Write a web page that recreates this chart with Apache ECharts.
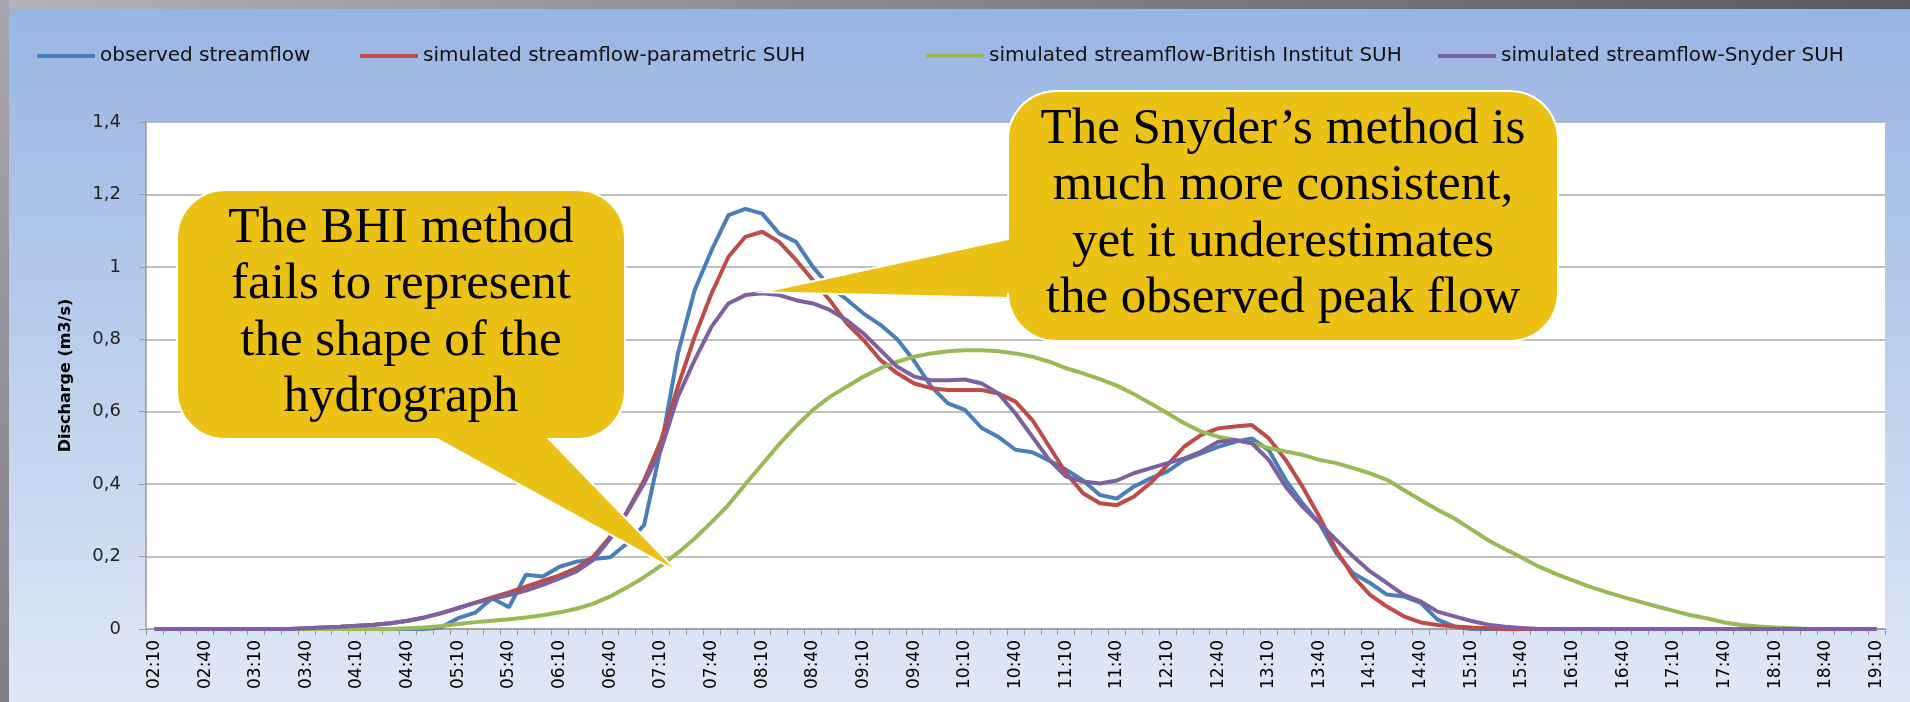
<!DOCTYPE html>
<html>
<head>
<meta charset="utf-8">
<title>Discharge hydrographs</title>
<script src="https://cdn.jsdelivr.net/npm/echarts@6/dist/echarts.min.js"></script>
<style>
  html, body { margin: 0; padding: 0; }
  #main { width: 1910px; height: 702px; }
</style>
</head>
<body>
<div id="main"></div>
<script>
// time steps, 10 minutes apart
var categories = [
  "02:10","02:20","02:30","02:40","02:50","03:00","03:10","03:20","03:30","03:40","03:50","04:00",
  "04:10","04:20","04:30","04:40","04:50","05:00","05:10","05:20","05:30","05:40","05:50","06:00",
  "06:10","06:20","06:30","06:40","06:50","07:00","07:10","07:20","07:30","07:40","07:50","08:00",
  "08:10","08:20","08:30","08:40","08:50","09:00","09:10","09:20","09:30","09:40","09:50","10:00",
  "10:10","10:20","10:30","10:40","10:50","11:00","11:10","11:20","11:30","11:40","11:50","12:00",
  "12:10","12:20","12:30","12:40","12:50","13:00","13:10","13:20","13:30","13:40","13:50","14:00",
  "14:10","14:20","14:30","14:40","14:50","15:00","15:10","15:20","15:30","15:40","15:50","16:00",
  "16:10","16:20","16:30","16:40","16:50","17:00","17:10","17:20","17:30","17:40","17:50","18:00",
  "18:10","18:20","18:30","18:40","18:50","19:00","19:10"
];

var observed = [
  0,0,0,0,0,0,0,0,0,0,0,0,0,0,0,0,0,
  0.005,0.03,0.045,0.085,0.06,0.15,0.145,0.172,0.186,0.193,0.198,0.237,0.287,0.5,
  0.76,0.936,1.046,1.143,1.16,1.147,1.092,1.069,1.0,0.945,0.91,0.871,0.84,0.8,0.74,
  0.67,0.623,0.605,0.555,0.53,0.495,0.488,0.465,0.44,0.41,0.37,0.36,0.393,0.416,0.435,
  0.467,0.485,0.503,0.517,0.526,0.494,0.412,0.347,0.292,0.209,0.154,0.127,0.095,0.09,
  0.072,0.026,0.007,
  0,0,0,0,0,0,0,0,0,0,0,0,0,0,0,0,0,0,0,0,0,0,0,0,0
];

var parametric = [
  0,0,0,0,0,0,0,0,0,
  0.002,0.004,0.006,0.009,0.012,0.016,0.023,0.032,0.044,0.058,0.073,0.087,0.101,0.117,
  0.133,0.148,0.168,0.2,0.255,0.325,0.41,0.52,0.669,0.807,0.927,1.028,1.083,1.097,1.069,
  1.019,0.963,0.908,0.844,0.798,0.743,0.706,0.678,0.665,0.66,0.66,0.66,0.65,0.628,0.577,
  0.504,0.43,0.375,0.347,0.342,0.365,0.403,0.453,0.504,0.536,0.554,0.559,0.563,0.527,
  0.467,0.393,0.31,0.218,0.145,0.094,0.062,0.035,0.018,0.011,0.007,0.004,0.002,
  0,0,0,0,0,0,0,0,0,0,0,0,0,0,0,0,0,0,0,0,0,0,0
];

var british = [
  0,0,0,0,0,0,0,0,0,0,0,0,0,0,0,
  0.002,0.004,0.008,0.014,0.019,0.023,0.027,0.032,0.038,0.046,0.056,0.07,0.09,0.115,
  0.143,0.175,0.21,0.25,0.295,0.343,0.4,0.455,0.51,0.56,0.605,0.641,0.669,0.697,0.72,
  0.738,0.752,0.761,0.767,0.77,0.77,0.767,0.761,0.752,0.738,0.72,0.706,0.69,0.672,0.649,
  0.623,0.596,0.568,0.545,0.531,0.522,0.513,0.5,0.49,0.481,0.467,0.458,0.444,0.43,0.412,
  0.384,0.356,0.329,0.305,0.275,0.245,0.22,0.197,0.172,0.152,0.134,0.117,0.102,0.088,
  0.075,0.062,0.05,0.038,0.029,0.018,0.011,0.007,0.004,0.002,
  0,0,0,0,0
];

var snyder = [
  0,0,0,0,0,0,0,0,0,
  0.002,0.004,0.006,0.009,0.012,0.016,0.023,0.032,0.044,0.058,0.072,0.083,0.094,0.106,
  0.122,0.14,0.159,0.191,0.25,0.322,0.402,0.495,0.641,0.743,0.835,0.899,0.922,0.927,0.922,
  0.908,0.899,0.881,0.853,0.816,0.77,0.724,0.697,0.687,0.687,0.689,0.678,0.65,0.595,0.531,
  0.467,0.421,0.407,0.402,0.41,0.43,0.444,0.458,0.471,0.49,0.517,0.522,0.513,0.467,0.393,
  0.338,0.292,0.246,0.2,0.159,0.127,0.094,0.076,0.048,0.035,0.022,0.012,0.006,0.003,
  0,0,0,0,0,0,0,0,0,0,0,0,0,0,0,0,0,0,0,0,0
];

var seriesNames = [
  "observed streamflow",
  "simulated streamflow-parametric SUH",
  "simulated streamflow-British Institut SUH",
  "simulated streamflow-Snyder SUH"
];
var seriesColors = ["#4a7ebb", "#be4b48", "#98b954", "#7d60a0"];
var legendLeft = [37, 360, 926, 1438];

var chart = echarts.init(document.getElementById("main"));

function lineSeries(k, data) {
  return {
    name: seriesNames[k],
    type: "line",
    data: data,
    showSymbol: false,
    symbol: "none",
    lineStyle: { color: seriesColors[k], width: 4 },
    itemStyle: { color: seriesColors[k] },
    emphasis: { disabled: true }
  };
}

var legends = seriesNames.map(function(n, k) {
  return {
    data: [n],
    left: legendLeft[k],
    top: 46,
    padding: 0,
    icon: "rect",
    itemWidth: 58,
    itemHeight: 4,
    selectedMode: false,
    textStyle: { fontFamily: "DejaVu Sans", fontSize: 20, color: "#111" }
  };
});

var option = {
  animation: false,
  backgroundColor: new echarts.graphic.LinearGradient(0, 0, 0, 1, [
    { offset: 0, color: "#97b4e2" },
    { offset: 1, color: "#dfe8f5" }
  ]),
  legend: legends,
  grid: {
    left: 146, right: 25, top: 122, bottom: 73,
    show: true, backgroundColor: "#ffffff", borderWidth: 0
  },
  xAxis: {
    type: "category",
    data: categories,
    boundaryGap: true,
    axisLine: { lineStyle: { color: "#9a9a9a", width: 1.5 } },
    axisTick: { show: true, interval: 0, length: 6, lineStyle: { color: "#9a9a9a" } },
    axisLabel: {
      interval: 2, rotate: 90, margin: 11,
      fontFamily: "DejaVu Sans", fontSize: 17, color: "#000"
    },
    splitLine: { show: false }
  },
  yAxis: {
    type: "value",
    min: 0, max: 1.4, interval: 0.2,
    name: "Discharge (m3/s)",
    nameLocation: "middle",
    nameGap: 72,
    nameRotate: 90,
    nameTextStyle: { fontFamily: "DejaVu Sans", fontWeight: "bold", fontSize: 16, color: "#000" },
    axisLine: { show: true, lineStyle: { color: "#9a9a9a", width: 1.5 } },
    axisTick: { show: true, length: 7, lineStyle: { color: "#9a9a9a" } },
    axisLabel: {
      margin: 25, fontFamily: "DejaVu Sans", fontSize: 18, color: "#222",
      formatter: function(v) { return String(Math.round(v * 10) / 10).replace(".", ","); }
    },
    splitLine: { lineStyle: { color: "#ababab", width: 1.5 } }
  },
  series: [
    lineSeries(0, observed),
    lineSeries(1, parametric),
    lineSeries(2, british),
    lineSeries(3, snyder)
  ]
};

chart.setOption(option);

// quarter arc points (screen angles, degrees, clockwise)
function arc(cx, cy, r, a0, a1) {
  var pts = [];
  for (var s = 0; s <= 12; s++) {
    var a = (a0 + (a1 - a0) * s / 12) * Math.PI / 180;
    pts.push([cx + r * Math.cos(a), cy + r * Math.sin(a)]);
  }
  return pts;
}

var r = 48;
var tipBHI = chart.convertToPixel({ seriesIndex: 2 }, [31.2, 0.158]);
var tipSny = chart.convertToPixel({ seriesIndex: 3 }, [36, 0.93]);

// BHI box 177..625 x 190..439, tail on the bottom edge
var bhi = [].concat(
  arc(625 - r, 190 + r, r, -90, 0),
  arc(625 - r, 439 - r, r, 0, 90),
  [[549, 439], tipBHI, [437, 439]],
  arc(177 + r, 439 - r, r, 90, 180),
  arc(177 + r, 190 + r, r, 180, 270)
);

// Snyder box 1008..1558 x 91..341, tail on the left edge
var sny = [].concat(
  arc(1558 - r, 91 + r, r, -90, 0),
  arc(1558 - r, 341 - r, r, 0, 90),
  arc(1008 + r, 341 - r, r, 90, 180),
  [[1008, 298], tipSny, [1008, 239]],
  arc(1008 + r, 91 + r, r, 180, 270)
);

var calloutFill = "#ebc116";
var calloutFont = '51px "Liberation Serif"';

chart.setOption({
  graphic: [
    {
      type: "rect", id: "frameTop", z: 100, silent: true,
      shape: { x: 0, y: 0, width: 1910, height: 9 },
      style: {
        fill: new echarts.graphic.LinearGradient(0, 0, 1, 0, [
          { offset: 0, color: "#b4b2b9" },
          { offset: 0.5, color: "#85838b" },
          { offset: 1, color: "#5b5a60" }
        ])
      }
    },
    {
      type: "rect", id: "frameLeft", z: 100, silent: true,
      shape: { x: 0, y: 0, width: 9, height: 702 },
      style: {
        fill: new echarts.graphic.LinearGradient(0, 0, 0, 1, [
          { offset: 0, color: "#a9a7ae" },
          { offset: 1, color: "#7f7e85" }
        ])
      }
    },
    {
      type: "polygon", id: "bubbleBHI", z: 100, silent: true,
      shape: { points: bhi },
      style: { fill: calloutFill, stroke: "#ffffff", lineWidth: 2 }
    },
    {
      type: "text", id: "textBHI", z: 101, silent: true,
      style: {
        text: "The BHI method\nfails to represent\nthe shape of the\nhydrograph",
        x: 401, y: 313, align: "center", verticalAlign: "middle",
        font: calloutFont, lineHeight: 56.5, fill: "#000"
      }
    },
    {
      type: "polygon", id: "bubbleSny", z: 100, silent: true,
      shape: { points: sny },
      style: { fill: calloutFill, stroke: "#ffffff", lineWidth: 2 }
    },
    {
      type: "text", id: "textSny", z: 101, silent: true,
      style: {
        text: "The Snyder\u2019s method is\nmuch more consistent,\nyet it underestimates\nthe observed peak flow",
        x: 1283, y: 214, align: "center", verticalAlign: "middle",
        font: calloutFont, lineHeight: 56.5, fill: "#000"
      }
    }
  ]
});
</script>
</body>
</html>
